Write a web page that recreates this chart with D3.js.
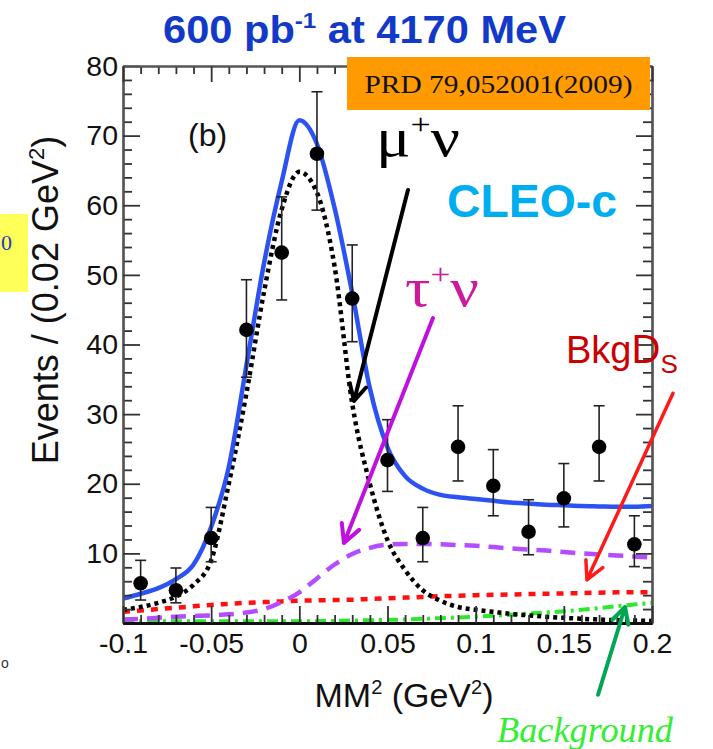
<!DOCTYPE html>
<html>
<head>
<meta charset="utf-8">
<script src="https://cdn.jsdelivr.net/npm/d3@7"></script>
<style>
  html, body { margin: 0; padding: 0; background: #fff; }
  svg { display: block; }
</style>
</head>
<body>
<svg id="chart" width="713" height="749"></svg>
<script>
// Observed events per 0.02 GeV^2 bin
const binCentres = [-0.09, -0.07, -0.05, -0.03, -0.01, 0.01, 0.03, 0.05, 0.07, 0.09, 0.11, 0.13, 0.15, 0.17, 0.19];
const events     = [5.7, 4.7, 12.2, 42.1, 53.2, 67.4, 46.6, 23.4, 12.2, 25.3, 19.7, 13.1, 17.9, 25.3, 11.3];
const errLow     = [3.3, 2.9, 8.8, 35.3, 46.4, 59.3, 40.4, 18.9, 8.8, 20.4, 15.4, 9.8, 13.8, 20.4, 8.1];
const errHigh    = [9.0, 7.9, 16.6, 49.3, 61.2, 76.3, 54.3, 29.2, 16.6, 31.2, 24.9, 17.7, 22.9, 31.2, 15.4];

// Fit components sampled every 0.01 GeV^2 from -0.1 to 0.2
const fitGrid = [-0.10, -0.09, -0.08, -0.07, -0.06, -0.05, -0.04, -0.03, -0.02, -0.01,
                  0.00,  0.01,  0.02,  0.03,  0.04,  0.05,  0.06,  0.07,  0.08,  0.09,
                  0.10,  0.11,  0.12,  0.13,  0.14,  0.15,  0.16,  0.17,  0.18,  0.19, 0.20];
const totalFit = [3.5, 4.2, 5.0, 6.3, 8.4, 13.8, 22.4, 37.0, 51.7, 63.4,
                  72.2, 68.8, 59.6, 47.4, 33.7, 25.2, 21.1, 19.3, 18.4, 18.05,
                  17.8, 17.55, 17.3, 17.15, 17.0, 16.9, 16.8, 16.75, 16.7, 16.7, 16.8];
const muNuFit  = [1.9, 2.3, 2.9, 3.8, 5.5, 9.0, 20.0, 33.0, 47.6, 59.4,
                  64.8, 61.8, 51.2, 31.5, 20.0, 11.9, 7.6, 4.7, 3.2, 2.3,
                  1.9, 1.6, 1.3, 1.1, 0.9, 0.75, 0.6, 0.5, 0.4, 0.35, 0.3];
const tauNuFit = [0.5, 0.6, 0.75, 0.9, 1.0, 1.1, 1.25, 1.5, 2.0, 3.0,
                  4.4, 6.4, 8.4, 9.9, 10.8, 11.25, 11.35, 11.35, 11.3, 11.2,
                  11.1, 10.9, 10.7, 10.55, 10.4, 10.2, 10.0, 9.85, 9.7, 9.55, 9.4];
const bkgDsFit = [1.6, 1.8, 2.0, 2.2, 2.4, 2.6, 2.75, 2.9, 3.0, 3.1,
                  3.2, 3.25, 3.3, 3.35, 3.45, 3.55, 3.65, 3.75, 3.85, 3.9,
                  4.0, 4.05, 4.1, 4.15, 4.2, 4.25, 4.3, 4.35, 4.4, 4.4, 4.45];
const otherBkgFit = [0.25, 0.25, 0.25, 0.25, 0.25, 0.25, 0.25, 0.25, 0.25, 0.25,
                  0.25, 0.27, 0.3, 0.35, 0.4, 0.45, 0.5, 0.6, 0.7, 0.8,
                  0.9, 1.05, 1.2, 1.35, 1.5, 1.7, 1.9, 2.15, 2.4, 2.65, 2.9];

// Axis ticks and labels
const xMajorTicks = [-0.1, -0.05, 0, 0.05, 0.1, 0.15, 0.2];
const xTickLabels = ["-0.1", "-0.05", "0", "0.05", "0.1", "0.15", "0.2"];
const yMajorTicks = [0, 10, 20, 30, 40, 50, 60, 70, 80];
const yTickLabels = ["", "10", "20", "30", "40", "50", "60", "70", "80"];

const svg = d3.select("#chart");
const frame = { left: 123, right: 652, top: 66, bottom: 623 };

const x = d3.scaleLinear().domain([-0.1, 0.2]).range([frame.left, frame.right]);
const y = d3.scaleLinear().domain([0, 80]).range([frame.bottom, frame.top]);

const sans = "'Liberation Sans', Arial, Helvetica, sans-serif";
const serif = "'Liberation Serif', 'Times New Roman', serif";

// clip region for the fit curves
svg.append("defs").append("clipPath").attr("id", "plotClip")
  .append("rect")
  .attr("x", frame.left).attr("y", frame.top - 20)
  .attr("width", frame.right - frame.left).attr("height", frame.bottom - frame.top + 20);

// ---- fit curves ----
const curves = svg.append("g").attr("clip-path", "url(#plotClip)");
function drawFit(values, color, width, dash) {
  const line = d3.line()
    .x((d, i) => x(fitGrid[i]))
    .y(d => y(d))
    .curve(d3.curveMonotoneX);
  curves.append("path")
    .datum(values)
    .attr("d", line)
    .attr("fill", "none")
    .attr("stroke", color)
    .attr("stroke-width", width)
    .attr("stroke-dasharray", dash);
}
drawFit(otherBkgFit, "#2ee82e", 4, "11 5 3 5");
drawFit(bkgDsFit, "#ff1010", 4.5, "7 7");
drawFit(tauNuFit, "#b44cff", 4.5, "15 9");
drawFit(muNuFit, "#000", 4.5, "4 4");
drawFit(totalFit, "#2d52f2", 4.5, null);

// ---- axes (ticks pointing inwards on all four sides) ----
const xMinor = d3.range(-10, 21).map(v => v / 100).filter(v => !xMajorTicks.some(t => Math.abs(t - v) < 1e-9));
const yMinor = d3.range(0, 81, 2).filter(v => v % 10 !== 0);
const labelX = d => xTickLabels[xMajorTicks.indexOf(d)];
const labelY = d => yTickLabels[yMajorTicks.indexOf(d)];

function styleAxis(g, color, width) {
  g.selectAll(".domain").attr("stroke", color).attr("stroke-width", width);
  g.selectAll(".tick line").attr("stroke", "#333").attr("stroke-width", 1.8);
  g.selectAll(".tick text").attr("font-family", sans).attr("font-size", 28.5).attr("fill", "#111");
}

// left
const gLeft = svg.append("g").attr("transform", `translate(${frame.left},0)`);
gLeft.append("g").call(d3.axisLeft(y).tickValues(yMinor).tickSize(-9).tickSizeOuter(0).tickFormat(""));
gLeft.append("g").call(d3.axisLeft(y).tickValues(yMajorTicks).tickSize(-17).tickSizeOuter(0).tickPadding(5).tickFormat(labelY));
gLeft.selectAll("g").each(function () { styleAxis(d3.select(this), "#555", 2.2); });

// right
const gRight = svg.append("g").attr("transform", `translate(${frame.right},0)`);
gRight.append("g").call(d3.axisRight(y).tickValues(yMinor).tickSize(-9).tickSizeOuter(0).tickFormat(""));
gRight.append("g").call(d3.axisRight(y).tickValues(yMajorTicks).tickSize(-16).tickSizeOuter(0).tickFormat(""));
gRight.selectAll("g").each(function () { styleAxis(d3.select(this), "#555", 2.2); });

// top
const gTop = svg.append("g").attr("transform", `translate(0,${frame.top})`);
gTop.append("g").call(d3.axisTop(x).tickValues(xMinor).tickSize(-8).tickSizeOuter(0).tickFormat(""));
gTop.append("g").call(d3.axisTop(x).tickValues(xMajorTicks).tickSize(-16).tickSizeOuter(0).tickFormat(""));
gTop.selectAll("g").each(function () { styleAxis(d3.select(this), "#555", 2.2); });

// bottom
const gBottom = svg.append("g").attr("transform", `translate(0,${frame.bottom})`);
gBottom.append("g").call(d3.axisBottom(x).tickValues(xMinor).tickSize(-8).tickSizeOuter(0).tickFormat(""));
gBottom.append("g").call(d3.axisBottom(x).tickValues(xMajorTicks).tickSize(-17).tickSizeOuter(0).tickPadding(10).tickFormat(labelX));
gBottom.selectAll("g").each(function () { styleAxis(d3.select(this), "#111", 3); });

// ---- data points with error bars ----
const pts = svg.append("g");
const bars = pts.selectAll("g.pt").data(binCentres.map((c, i) => ({ c, v: events[i], lo: errLow[i], hi: errHigh[i] })))
  .join("g").attr("class", "pt");
bars.append("line")
  .attr("x1", d => x(d.c)).attr("x2", d => x(d.c))
  .attr("y1", d => y(d.lo)).attr("y2", d => y(d.hi))
  .attr("stroke", "#222").attr("stroke-width", 1.6);
bars.append("line")
  .attr("x1", d => x(d.c) - 5.5).attr("x2", d => x(d.c) + 5.5)
  .attr("y1", d => y(d.hi)).attr("y2", d => y(d.hi))
  .attr("stroke", "#222").attr("stroke-width", 1.6);
bars.append("line")
  .attr("x1", d => x(d.c) - 5.5).attr("x2", d => x(d.c) + 5.5)
  .attr("y1", d => y(d.lo)).attr("y2", d => y(d.lo))
  .attr("stroke", "#222").attr("stroke-width", 1.6);
bars.append("circle")
  .attr("cx", d => x(d.c)).attr("cy", d => y(d.v)).attr("r", 7.3)
  .attr("fill", "#000");

// ---- annotation arrows (anchored in data coordinates) ----
function arrow(from, to, color, width, head) {
  const x1 = x(from[0]), y1 = y(from[1]), x2 = x(to[0]), y2 = y(to[1]);
  const a = Math.atan2(y2 - y1, x2 - x1), s = Math.PI / 6.5;
  const p1 = [x2 - head * Math.cos(a - s), y2 - head * Math.sin(a - s)];
  const p2 = [x2 - head * Math.cos(a + s), y2 - head * Math.sin(a + s)];
  svg.append("path")
    .attr("d", `M${x1},${y1}L${x2},${y2}M${p1[0]},${p1[1]}L${x2},${y2}L${p2[0]},${p2[1]}`)
    .attr("fill", "none").attr("stroke", color).attr("stroke-width", width)
    .attr("stroke-linecap", "round").attr("stroke-linejoin", "round");
}
arrow([0.0616, 62.2], [0.031, 31.9], "#000", 4, 18);
arrow([0.0758, 43.8], [0.0253, 11.5], "#c010e0", 4, 20);
arrow([0.2119, 33.0], [0.1631, 6.2], "#ff1a1a", 3.5, 20);
arrow([0.1694, -10.3], [0.1847, 2.3], "#00a651", 4, 18);

// ---- labels ----
// title
const title = svg.append("text")
  .attr("x", 163).attr("y", 43)
  .attr("font-family", sans).attr("font-weight", "bold").attr("font-size", 38)
  .attr("fill", "#1339c8")
  .attr("textLength", 403).attr("lengthAdjust", "spacingAndGlyphs");
title.append("tspan").text("600 pb");
title.append("tspan").attr("font-size", 22).attr("dy", -15).text("-1");
title.append("tspan").attr("dy", 15).text(" at 4170 MeV");

// reference box
svg.append("rect").attr("x", 347).attr("y", 57).attr("width", 303).attr("height", 53).attr("fill", "#ff9a00");
svg.append("text").attr("x", 498.5).attr("y", 93)
  .attr("text-anchor", "middle")
  .attr("font-family", serif).attr("font-size", 25).attr("fill", "#111")
  .attr("textLength", 268).attr("lengthAdjust", "spacingAndGlyphs")
  .text("PRD 79,052001(2009)");

// panel tag
svg.append("text").attr("x", 188).attr("y", 146)
  .attr("font-family", sans).attr("font-size", 32).attr("fill", "#111").text("(b)");

// mu nu
const mu = svg.append("text").attr("x", 376).attr("y", 156)
  .attr("font-family", serif).attr("font-size", 54).attr("fill", "#000")
  .attr("textLength", 84).attr("lengthAdjust", "spacingAndGlyphs");
mu.append("tspan").text("\u03bc");
mu.append("tspan").attr("font-size", 30).attr("dy", -22).text("+");
mu.append("tspan").attr("dy", 22).text("\u03bd");

// experiment name
svg.append("text").attr("x", 447).attr("y", 217)
  .attr("font-family", sans).attr("font-weight", "bold").attr("font-size", 46)
  .attr("fill", "#00aeef")
  .attr("textLength", 170).attr("lengthAdjust", "spacingAndGlyphs")
  .text("CLEO-c");

// tau nu
const tau = svg.append("text").attr("x", 405).attr("y", 306)
  .attr("font-family", serif).attr("font-size", 54).attr("fill", "#cc1a9e")
  .attr("textLength", 74).attr("lengthAdjust", "spacingAndGlyphs");
tau.append("tspan").text("\u03c4");
tau.append("tspan").attr("font-size", 30).attr("dy", -22).text("+");
tau.append("tspan").attr("dy", 22).text("\u03bd");

// Ds background
const bkg = svg.append("text").attr("x", 566).attr("y", 363)
  .attr("font-family", sans).attr("font-size", 38).attr("fill", "#cc0000");
bkg.append("tspan").text("Bkg");
bkg.append("tspan").attr("font-size", 40).text("D");
bkg.append("tspan").attr("font-size", 26).attr("dy", 10).text("S");

// other backgrounds
svg.append("text").attr("x", 497).attr("y", 742)
  .attr("font-family", serif).attr("font-style", "italic").attr("font-size", 35)
  .attr("fill", "#33ee33")
  .attr("textLength", 176).attr("lengthAdjust", "spacingAndGlyphs")
  .text("Background");

// axis titles
const yTitle = svg.append("text")
  .attr("transform", "translate(58,300) rotate(-90)")
  .attr("text-anchor", "middle")
  .attr("font-family", sans).attr("font-size", 36).attr("fill", "#111");
yTitle.append("tspan").text("Events / (0.02 GeV");
yTitle.append("tspan").attr("font-size", 22).attr("dy", -14).text("2");
yTitle.append("tspan").attr("dy", 14).text(")");

const xTitle = svg.append("text")
  .attr("x", 404).attr("y", 707)
  .attr("text-anchor", "middle")
  .attr("font-family", sans).attr("font-size", 34).attr("fill", "#111");
xTitle.append("tspan").text("MM");
xTitle.append("tspan").attr("font-size", 20).attr("dy", -13).text("2");
xTitle.append("tspan").attr("dy", 13).text(" (GeV");
xTitle.append("tspan").attr("font-size", 20).attr("dy", -13).text("2");
xTitle.append("tspan").attr("dy", 13).text(")");

// slide fragments at the left edge
svg.append("rect").attr("x", 0).attr("y", 214).attr("width", 28).attr("height", 78).attr("fill", "#ffff5a");
svg.append("text").attr("x", 1).attr("y", 250)
  .attr("font-family", serif).attr("font-size", 22).attr("fill", "#1a3cc8").text("0");
svg.append("text").attr("x", 1).attr("y", 668)
  .attr("font-family", sans).attr("font-size", 14).attr("fill", "#333").text("o");
</script>
</body>
</html>
